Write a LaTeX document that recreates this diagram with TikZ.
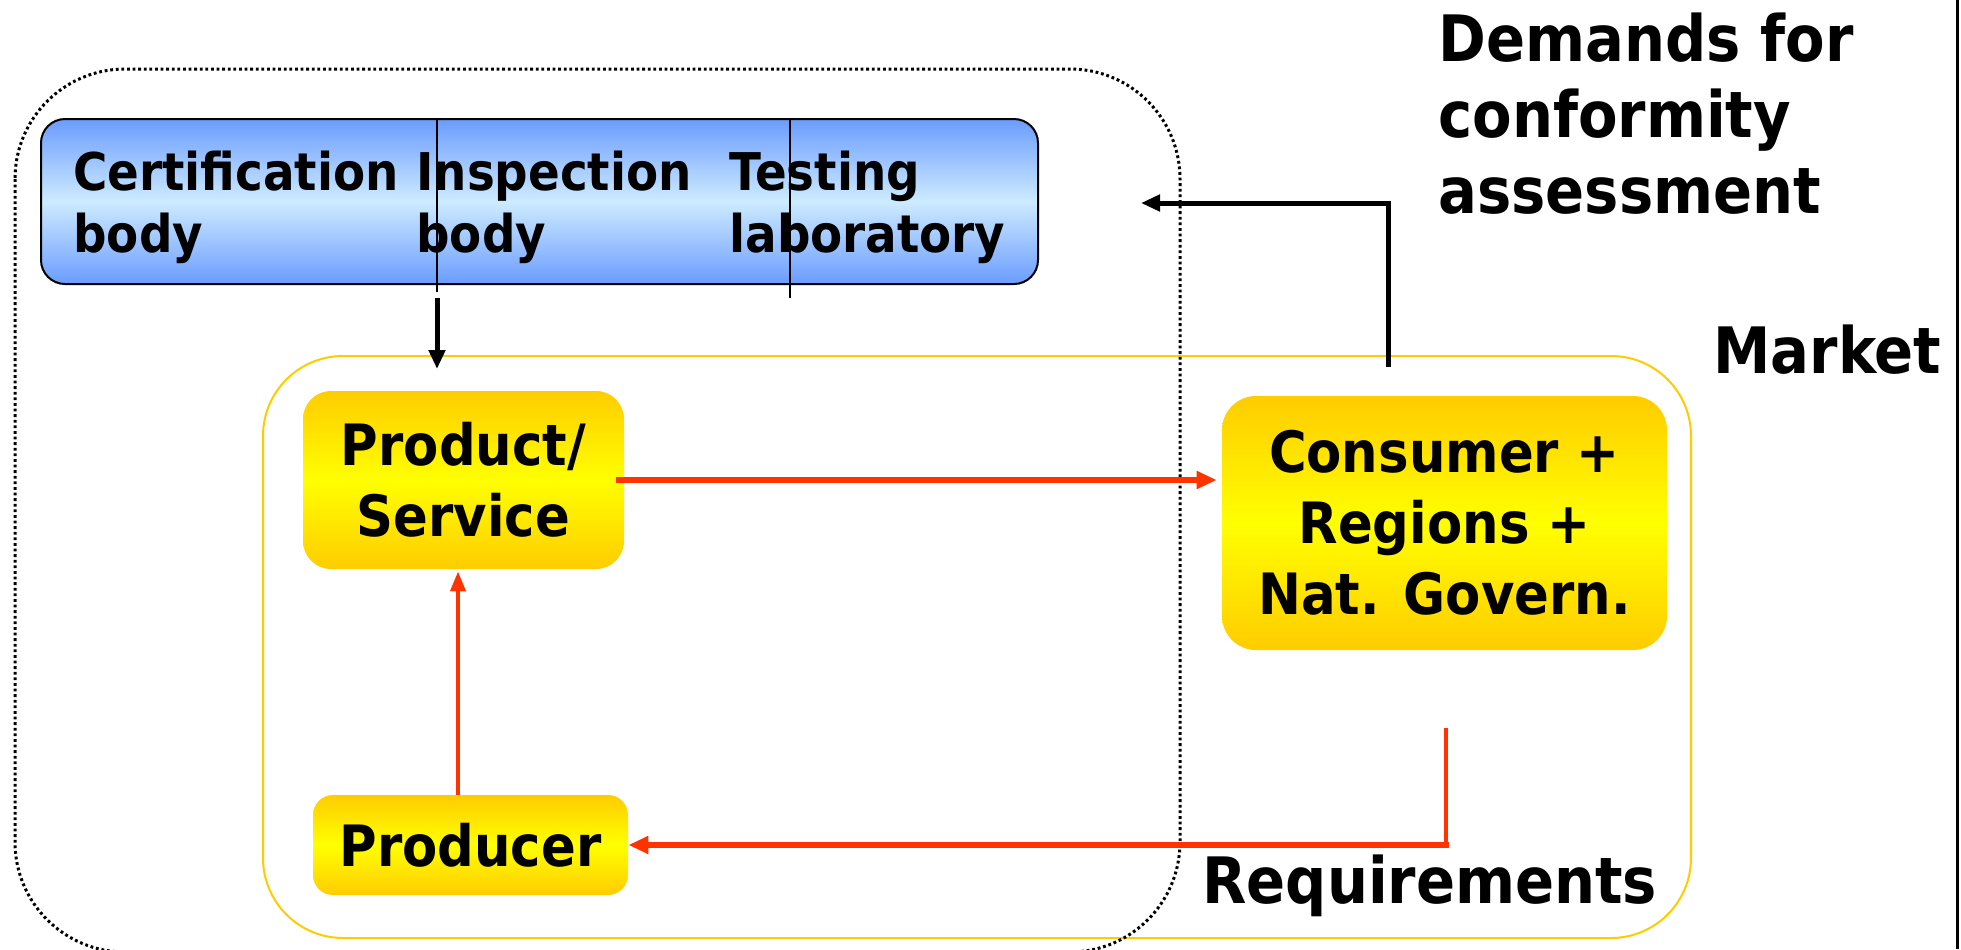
\documentclass[tikz,border=0pt]{standalone}
\usepackage{fontspec}
\setmainfont{DejaVu Sans}[FakeStretch=0.9]
\usetikzlibrary{arrows.meta}
\definecolor{redline}{HTML}{FF3300}
\definecolor{gold}{HTML}{FFCC00}
\definecolor{blueedge}{HTML}{6B9CFF}
\definecolor{bluemid}{HTML}{CDEBFF}
\begin{document}
\begin{tikzpicture}[x=0.5pt,y=-0.5pt,
  ybox/.style={rounded corners=14pt, top color=gold, bottom color=gold, middle color=yellow,
    align=center, inner sep=0pt, font=\bfseries\fontsize{28.5}{35.5}\selectfont},
  bluetxt/.style={align=left, inner sep=0pt, font=\bfseries\fontsize{26}{31}\selectfont},
  outtxt/.style={align=left, inner sep=0pt, font=\bfseries\fontsize{32}{38}\selectfont},
  redthick/.style={draw=redline, line width=3pt, -{Triangle[length=10pt,width=8.5pt]}},
  redthin/.style={draw=redline, line width=2pt, -{Triangle[length=10pt,width=7.5pt]}},
  blackarrow/.style={draw=black, line width=2.5pt, -{Triangle[length=9.5pt,width=8pt]}},
  colline/.style={draw=black, line width=0.75pt}]
\useasboundingbox (0,0) rectangle (1961,949);
\fill[white] (0,0) rectangle (1961,949);

% frame line on the right
\draw[line width=1.5pt] (1957,0) -- (1957,949);

% market area
\draw[gold, line width=1pt, rounded corners=40pt] (263,356) rectangle (1691,938);

% conformity assessment area
\draw[line width=1.5pt, dash pattern=on 1.4pt off 1.4pt, rounded corners=55pt] (15,69) rectangle (1180,952);

% conformity assessment bodies
\node[draw=black, line width=1pt, rounded corners=12pt, top color=blueedge, bottom color=blueedge,
  middle color=bluemid, minimum width=498.5pt, minimum height=82.5pt, inner sep=0pt] (cab) at (539.5,201.5) {};
\draw[colline] (437,119) -- (437,292);
\draw[colline] (790,119) -- (790,298);
% multi-line nodes: the base anchor sits on the last line
\node[bluetxt, anchor=base west] (cert) at (73,252) {Certification\\body};
\node[bluetxt, anchor=base west] (insp) at (416,252) {Inspection\\body};
\node[bluetxt, anchor=base west] (test) at (729,252) {Testing\\laboratory};

% market participants
\node[ybox, minimum width=160.5pt, minimum height=89pt] (prod) at (463.5,480) {Product/\\Service};
\node[ybox, rounded corners=17pt, minimum width=222.5pt, minimum height=127pt] (cons) at (1444.5,523) {Consumer +\\Regions +\\Nat. Govern.};
\node[ybox, rounded corners=10pt, minimum width=157.5pt, minimum height=50pt] (prodr) at (470.5,845) {Producer};

% labels
\node[outtxt, anchor=base west] (dem) at (1438,213) {Demands for\\conformity\\assessment};
\node[outtxt, anchor=base west] (mkt) at (1713,373) {Market};
\node[outtxt, anchor=base west] (req) at (1202,903) {Requirements};

% connectors
\coordinate (ds) at (437,298);
\coordinate (dt) at (437,369);
\draw[blackarrow] (ds) -- (dt);

\coordinate (us) at (1388,367);
\coordinate (ut) at (1141,203);
\draw[blackarrow] (us) |- (ut);

\draw[redthick, shorten >=2.5pt] ([xshift=-4pt]prod.east) -- (cons.west |- prod.east);

\coordinate (px) at (458,0);
\draw[redthin, shorten >=1pt] (prodr.north -| px) -- (prod.south -| px);

\coordinate (rs) at (1446,728);
\coordinate (rc) at (1446,845);
\draw[draw=redline, line width=2pt] (rs) -- (rc);
\draw[redthick, line cap=rect] (rc) -- (prodr.east);
\end{tikzpicture}
\end{document}
